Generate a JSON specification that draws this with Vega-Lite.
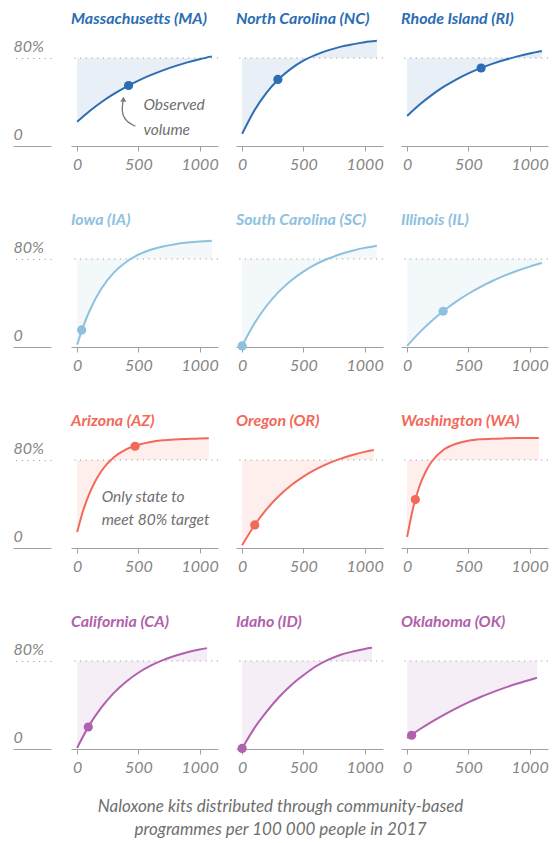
{
  "$schema": "https://vega.github.io/schema/vega-lite/v6.json",
  "padding": {"left": 12, "top": 11, "right": 5, "bottom": 8},
  "background": "white",
  "title": {
    "text": ["Naloxone kits distributed through community-based", "programmes per 100 000 people in 2017"],
    "orient": "bottom",
    "anchor": "middle",
    "font": "Lato",
    "fontSize": 17,
    "fontStyle": "italic",
    "fontWeight": "normal",
    "color": "#6f6f6f",
    "lineHeight": 23,
    "offset": 24
  },
  "data": {
    "values": [
      {"state": "MA", "group": "1", "kind": "t", "x": -50, "y": 100, "text": "Massachusetts (MA)"},
      {"state": "NC", "group": "1", "kind": "t", "x": -50, "y": 100, "text": "North Carolina (NC)"},
      {"state": "RI", "group": "1", "kind": "t", "x": -50, "y": 100, "text": "Rhode Island (RI)"},
      {"state": "IA", "group": "2", "kind": "t", "x": -50, "y": 100, "text": "Iowa (IA)"},
      {"state": "SC", "group": "2", "kind": "t", "x": -50, "y": 100, "text": "South Carolina (SC)"},
      {"state": "IL", "group": "2", "kind": "t", "x": -50, "y": 100, "text": "Illinois (IL)"},
      {"state": "AZ", "group": "3", "kind": "t", "x": -50, "y": 100, "text": "Arizona (AZ)"},
      {"state": "OR", "group": "3", "kind": "t", "x": -50, "y": 100, "text": "Oregon (OR)"},
      {"state": "WA", "group": "3", "kind": "t", "x": -50, "y": 100, "text": "Washington (WA)"},
      {"state": "CA", "group": "4", "kind": "t", "x": -50, "y": 100, "text": "California (CA)"},
      {"state": "ID", "group": "4", "kind": "t", "x": -50, "y": 100, "text": "Idaho (ID)"},
      {"state": "OK", "group": "4", "kind": "t", "x": -50, "y": 100, "text": "Oklahoma (OK)"},

      {"state": "MA", "group": "1", "kind": "r", "y": 80},
      {"state": "NC", "group": "1", "kind": "r", "y": 80},
      {"state": "RI", "group": "1", "kind": "r", "y": 80},
      {"state": "IA", "group": "2", "kind": "r", "y": 80},
      {"state": "SC", "group": "2", "kind": "r", "y": 80},
      {"state": "IL", "group": "2", "kind": "r", "y": 80},
      {"state": "AZ", "group": "3", "kind": "r", "y": 80},
      {"state": "OR", "group": "3", "kind": "r", "y": 80},
      {"state": "WA", "group": "3", "kind": "r", "y": 80},
      {"state": "CA", "group": "4", "kind": "r", "y": 80},
      {"state": "ID", "group": "4", "kind": "r", "y": 80},
      {"state": "OK", "group": "4", "kind": "r", "y": 80},

      {"state": "MA", "group": "1", "kind": "o", "x": 420, "y": 55},
      {"state": "NC", "group": "1", "kind": "o", "x": 292, "y": 60.5},
      {"state": "RI", "group": "1", "kind": "o", "x": 604, "y": 70.9},
      {"state": "IA", "group": "2", "kind": "o", "x": 37, "y": 15.5},
      {"state": "SC", "group": "2", "kind": "o", "x": 0, "y": 1},
      {"state": "IL", "group": "2", "kind": "o", "x": 294, "y": 32.5},
      {"state": "AZ", "group": "3", "kind": "o", "x": 473, "y": 92.5},
      {"state": "OR", "group": "3", "kind": "o", "x": 103, "y": 21},
      {"state": "WA", "group": "3", "kind": "o", "x": 67, "y": 44},
      {"state": "CA", "group": "4", "kind": "o", "x": 91, "y": 20},
      {"state": "ID", "group": "4", "kind": "o", "x": 0, "y": 0.5},
      {"state": "OK", "group": "4", "kind": "o", "x": 37, "y": 12.5},

      {"state": "MA", "group": "1", "kind": "n", "x": 541, "y": 32.7, "text": "Observed"},
      {"state": "MA", "group": "1", "kind": "n", "x": 541, "y": 10, "text": "volume"},
      {"state": "AZ", "group": "3", "kind": "n", "x": 200, "y": 42, "text": "Only state to"},
      {"state": "AZ", "group": "3", "kind": "n", "x": 200, "y": 21, "text": "meet 80% target"},

      {"state": "MA", "group": "1", "kind": "a", "order": 1, "x": 475, "y": 18},
      {"state": "MA", "group": "1", "kind": "a", "order": 2, "x": 405, "y": 22},
      {"state": "MA", "group": "1", "kind": "a", "order": 3, "x": 372, "y": 28},
      {"state": "MA", "group": "1", "kind": "a", "order": 4, "x": 366, "y": 34},
      {"state": "MA", "group": "1", "kind": "a", "order": 5, "x": 374, "y": 40},
      {"state": "MA", "group": "1", "kind": "h", "x": 377, "y": 42.5},

      {"state": "MA", "group": "1", "kind": "c", "x": 0, "y": 22},
      {"state": "MA", "group": "1", "kind": "c", "x": 100, "y": 31.6},
      {"state": "MA", "group": "1", "kind": "c", "x": 200, "y": 40},
      {"state": "MA", "group": "1", "kind": "c", "x": 300, "y": 47.3},
      {"state": "MA", "group": "1", "kind": "c", "x": 400, "y": 53.8},
      {"state": "MA", "group": "1", "kind": "c", "x": 500, "y": 59.5},
      {"state": "MA", "group": "1", "kind": "c", "x": 600, "y": 64.4},
      {"state": "MA", "group": "1", "kind": "c", "x": 700, "y": 68.8},
      {"state": "MA", "group": "1", "kind": "c", "x": 800, "y": 72.6},
      {"state": "MA", "group": "1", "kind": "c", "x": 900, "y": 76},
      {"state": "MA", "group": "1", "kind": "c", "x": 1000, "y": 78.9},
      {"state": "MA", "group": "1", "kind": "c", "x": 1100, "y": 81.5},

      {"state": "NC", "group": "1", "kind": "c", "x": 0, "y": 11},
      {"state": "NC", "group": "1", "kind": "c", "x": 100, "y": 32.3},
      {"state": "NC", "group": "1", "kind": "c", "x": 200, "y": 48.6},
      {"state": "NC", "group": "1", "kind": "c", "x": 300, "y": 60.9},
      {"state": "NC", "group": "1", "kind": "c", "x": 400, "y": 70.3},
      {"state": "NC", "group": "1", "kind": "c", "x": 500, "y": 77.6},
      {"state": "NC", "group": "1", "kind": "c", "x": 600, "y": 82.8},
      {"state": "NC", "group": "1", "kind": "c", "x": 700, "y": 86.9},
      {"state": "NC", "group": "1", "kind": "c", "x": 800, "y": 90.1},
      {"state": "NC", "group": "1", "kind": "c", "x": 900, "y": 92.4},
      {"state": "NC", "group": "1", "kind": "c", "x": 1000, "y": 94.3},
      {"state": "NC", "group": "1", "kind": "c", "x": 1100, "y": 95.6},

      {"state": "RI", "group": "1", "kind": "c", "x": 0, "y": 27.3},
      {"state": "RI", "group": "1", "kind": "c", "x": 100, "y": 37.5},
      {"state": "RI", "group": "1", "kind": "c", "x": 200, "y": 46.3},
      {"state": "RI", "group": "1", "kind": "c", "x": 300, "y": 53.9},
      {"state": "RI", "group": "1", "kind": "c", "x": 400, "y": 60.4},
      {"state": "RI", "group": "1", "kind": "c", "x": 500, "y": 66},
      {"state": "RI", "group": "1", "kind": "c", "x": 600, "y": 70.8},
      {"state": "RI", "group": "1", "kind": "c", "x": 700, "y": 74.9},
      {"state": "RI", "group": "1", "kind": "c", "x": 800, "y": 78.4},
      {"state": "RI", "group": "1", "kind": "c", "x": 900, "y": 81.5},
      {"state": "RI", "group": "1", "kind": "c", "x": 1000, "y": 84.1},
      {"state": "RI", "group": "1", "kind": "c", "x": 1100, "y": 86.3},

      {"state": "IA", "group": "2", "kind": "c", "x": 0, "y": 2},
      {"state": "IA", "group": "2", "kind": "c", "x": 50, "y": 18.7},
      {"state": "IA", "group": "2", "kind": "c", "x": 100, "y": 32.5},
      {"state": "IA", "group": "2", "kind": "c", "x": 200, "y": 53.4},
      {"state": "IA", "group": "2", "kind": "c", "x": 300, "y": 67.6},
      {"state": "IA", "group": "2", "kind": "c", "x": 400, "y": 77.3},
      {"state": "IA", "group": "2", "kind": "c", "x": 500, "y": 83.9},
      {"state": "IA", "group": "2", "kind": "c", "x": 600, "y": 88.4},
      {"state": "IA", "group": "2", "kind": "c", "x": 700, "y": 91.4},
      {"state": "IA", "group": "2", "kind": "c", "x": 800, "y": 93.5},
      {"state": "IA", "group": "2", "kind": "c", "x": 900, "y": 94.9},
      {"state": "IA", "group": "2", "kind": "c", "x": 1000, "y": 95.9},
      {"state": "IA", "group": "2", "kind": "c", "x": 1100, "y": 96.6},

      {"state": "SC", "group": "2", "kind": "c", "x": 0, "y": 1},
      {"state": "SC", "group": "2", "kind": "c", "x": 100, "y": 21.3},
      {"state": "SC", "group": "2", "kind": "c", "x": 200, "y": 37.5},
      {"state": "SC", "group": "2", "kind": "c", "x": 300, "y": 50.3},
      {"state": "SC", "group": "2", "kind": "c", "x": 400, "y": 60.5},
      {"state": "SC", "group": "2", "kind": "c", "x": 500, "y": 68.6},
      {"state": "SC", "group": "2", "kind": "c", "x": 600, "y": 75.1},
      {"state": "SC", "group": "2", "kind": "c", "x": 700, "y": 80.2},
      {"state": "SC", "group": "2", "kind": "c", "x": 800, "y": 84.3},
      {"state": "SC", "group": "2", "kind": "c", "x": 900, "y": 87.5},
      {"state": "SC", "group": "2", "kind": "c", "x": 1000, "y": 90.1},
      {"state": "SC", "group": "2", "kind": "c", "x": 1100, "y": 92.1},

      {"state": "IL", "group": "2", "kind": "c", "x": 0, "y": 1},
      {"state": "IL", "group": "2", "kind": "c", "x": 100, "y": 13.1},
      {"state": "IL", "group": "2", "kind": "c", "x": 200, "y": 23.7},
      {"state": "IL", "group": "2", "kind": "c", "x": 300, "y": 33},
      {"state": "IL", "group": "2", "kind": "c", "x": 400, "y": 41.2},
      {"state": "IL", "group": "2", "kind": "c", "x": 500, "y": 48.4},
      {"state": "IL", "group": "2", "kind": "c", "x": 600, "y": 54.7},
      {"state": "IL", "group": "2", "kind": "c", "x": 700, "y": 60.2},
      {"state": "IL", "group": "2", "kind": "c", "x": 800, "y": 65.1},
      {"state": "IL", "group": "2", "kind": "c", "x": 900, "y": 69.3},
      {"state": "IL", "group": "2", "kind": "c", "x": 1000, "y": 73.1},
      {"state": "IL", "group": "2", "kind": "c", "x": 1100, "y": 76.3},

      {"state": "AZ", "group": "3", "kind": "c", "x": 0, "y": 14.5},
      {"state": "AZ", "group": "3", "kind": "c", "x": 50, "y": 34.3},
      {"state": "AZ", "group": "3", "kind": "c", "x": 100, "y": 49.5},
      {"state": "AZ", "group": "3", "kind": "c", "x": 150, "y": 61.2},
      {"state": "AZ", "group": "3", "kind": "c", "x": 200, "y": 70.2},
      {"state": "AZ", "group": "3", "kind": "c", "x": 300, "y": 82.4},
      {"state": "AZ", "group": "3", "kind": "c", "x": 400, "y": 89.6},
      {"state": "AZ", "group": "3", "kind": "c", "x": 500, "y": 93.8},
      {"state": "AZ", "group": "3", "kind": "c", "x": 600, "y": 96.4},
      {"state": "AZ", "group": "3", "kind": "c", "x": 700, "y": 97.9},
      {"state": "AZ", "group": "3", "kind": "c", "x": 800, "y": 98.7},
      {"state": "AZ", "group": "3", "kind": "c", "x": 900, "y": 99.2},
      {"state": "AZ", "group": "3", "kind": "c", "x": 1000, "y": 99.6},
      {"state": "AZ", "group": "3", "kind": "c", "x": 1075, "y": 99.7},

      {"state": "OR", "group": "3", "kind": "c", "x": 0, "y": 2.5},
      {"state": "OR", "group": "3", "kind": "c", "x": 100, "y": 20.5},
      {"state": "OR", "group": "3", "kind": "c", "x": 200, "y": 35.3},
      {"state": "OR", "group": "3", "kind": "c", "x": 300, "y": 47.2},
      {"state": "OR", "group": "3", "kind": "c", "x": 400, "y": 57},
      {"state": "OR", "group": "3", "kind": "c", "x": 500, "y": 64.9},
      {"state": "OR", "group": "3", "kind": "c", "x": 600, "y": 71.4},
      {"state": "OR", "group": "3", "kind": "c", "x": 700, "y": 76.7},
      {"state": "OR", "group": "3", "kind": "c", "x": 800, "y": 81},
      {"state": "OR", "group": "3", "kind": "c", "x": 900, "y": 84.5},
      {"state": "OR", "group": "3", "kind": "c", "x": 1000, "y": 87.4},
      {"state": "OR", "group": "3", "kind": "c", "x": 1075, "y": 89.2},

      {"state": "WA", "group": "3", "kind": "c", "x": 0, "y": 10},
      {"state": "WA", "group": "3", "kind": "c", "x": 50, "y": 37},
      {"state": "WA", "group": "3", "kind": "c", "x": 100, "y": 55.9},
      {"state": "WA", "group": "3", "kind": "c", "x": 150, "y": 69.1},
      {"state": "WA", "group": "3", "kind": "c", "x": 200, "y": 78.4},
      {"state": "WA", "group": "3", "kind": "c", "x": 300, "y": 89.5},
      {"state": "WA", "group": "3", "kind": "c", "x": 400, "y": 94.8},
      {"state": "WA", "group": "3", "kind": "c", "x": 500, "y": 97.5},
      {"state": "WA", "group": "3", "kind": "c", "x": 600, "y": 98.8},
      {"state": "WA", "group": "3", "kind": "c", "x": 700, "y": 99.4},
      {"state": "WA", "group": "3", "kind": "c", "x": 800, "y": 99.7},
      {"state": "WA", "group": "3", "kind": "c", "x": 900, "y": 99.9},
      {"state": "WA", "group": "3", "kind": "c", "x": 1000, "y": 99.9},
      {"state": "WA", "group": "3", "kind": "c", "x": 1075, "y": 100},

      {"state": "CA", "group": "4", "kind": "c", "x": 0, "y": 1},
      {"state": "CA", "group": "4", "kind": "c", "x": 100, "y": 21.7},
      {"state": "CA", "group": "4", "kind": "c", "x": 200, "y": 38},
      {"state": "CA", "group": "4", "kind": "c", "x": 300, "y": 51},
      {"state": "CA", "group": "4", "kind": "c", "x": 400, "y": 61.2},
      {"state": "CA", "group": "4", "kind": "c", "x": 500, "y": 69.3},
      {"state": "CA", "group": "4", "kind": "c", "x": 600, "y": 75.7},
      {"state": "CA", "group": "4", "kind": "c", "x": 700, "y": 80.8},
      {"state": "CA", "group": "4", "kind": "c", "x": 800, "y": 84.8},
      {"state": "CA", "group": "4", "kind": "c", "x": 900, "y": 88},
      {"state": "CA", "group": "4", "kind": "c", "x": 1000, "y": 90.5},
      {"state": "CA", "group": "4", "kind": "c", "x": 1060, "y": 91.7},

      {"state": "ID", "group": "4", "kind": "c", "x": 0, "y": 0.5},
      {"state": "ID", "group": "4", "kind": "c", "x": 100, "y": 19},
      {"state": "ID", "group": "4", "kind": "c", "x": 200, "y": 34},
      {"state": "ID", "group": "4", "kind": "c", "x": 300, "y": 47},
      {"state": "ID", "group": "4", "kind": "c", "x": 400, "y": 58},
      {"state": "ID", "group": "4", "kind": "c", "x": 500, "y": 67},
      {"state": "ID", "group": "4", "kind": "c", "x": 600, "y": 75},
      {"state": "ID", "group": "4", "kind": "c", "x": 700, "y": 81},
      {"state": "ID", "group": "4", "kind": "c", "x": 800, "y": 85.5},
      {"state": "ID", "group": "4", "kind": "c", "x": 900, "y": 88.5},
      {"state": "ID", "group": "4", "kind": "c", "x": 1000, "y": 91},
      {"state": "ID", "group": "4", "kind": "c", "x": 1060, "y": 92},

      {"state": "OK", "group": "4", "kind": "c", "x": 0, "y": 10},
      {"state": "OK", "group": "4", "kind": "c", "x": 100, "y": 17.7},
      {"state": "OK", "group": "4", "kind": "c", "x": 200, "y": 24.7},
      {"state": "OK", "group": "4", "kind": "c", "x": 300, "y": 31.1},
      {"state": "OK", "group": "4", "kind": "c", "x": 400, "y": 37},
      {"state": "OK", "group": "4", "kind": "c", "x": 500, "y": 42.4},
      {"state": "OK", "group": "4", "kind": "c", "x": 600, "y": 47.3},
      {"state": "OK", "group": "4", "kind": "c", "x": 700, "y": 51.7},
      {"state": "OK", "group": "4", "kind": "c", "x": 800, "y": 55.8},
      {"state": "OK", "group": "4", "kind": "c", "x": 900, "y": 59.5},
      {"state": "OK", "group": "4", "kind": "c", "x": 1000, "y": 62.8},
      {"state": "OK", "group": "4", "kind": "c", "x": 1060, "y": 64.7}
    ]
  },
  "facet": {
    "field": "state",
    "type": "nominal",
    "title": null,
    "sort": ["MA", "NC", "RI", "IA", "SC", "IL", "AZ", "OR", "WA", "CA", "ID", "OK"],
    "header": {"labels": false, "title": null, "labelPadding": 0, "titlePadding": 0, "labelFontSize": 0, "labelColor": "transparent", "labelExpr": "''"}
  },
  "columns": 3,
  "spacing": {"row": 91, "column": 18},
  "bounds": "flush",
  "resolve": {"axis": {"x": "independent"}},
  "spec": {
    "width": 147,
    "height": 110,
    "layer": [
      {
        "transform": [{"filter": "datum.kind === 'c'"}],
        "mark": {"type": "area", "interpolate": "monotone", "opacity": 0.11},
        "encoding": {
          "x": {"field": "x", "type": "quantitative", "scale": {"domain": [-50, 1150], "nice": false, "zero": false},
            "axis": {"values": [0, 500, 1000], "format": "d", "title": null, "grid": false, "domainColor": "#a0a0a0", "tickColor": "#a0a0a0", "tickSize": 5, "labelFont": "Lato", "labelFontStyle": "italic", "labelFontSize": 16, "labelColor": "#858585", "labelPadding": 5, "labelFlush": false}},
          "y": {"field": "y", "type": "quantitative", "scale": {"domain": [0, 100], "nice": false, "zero": false},
            "axis": {"values": [0, 80], "title": null, "grid": false, "domain": false, "offset": 20, "tickSize": 38, "tickColor": "#a0a0a0", "tickWidth": 1.2,
              "tickDash": {"condition": {"test": "datum.value === 80", "value": [1.2, 4.5]}, "value": []},
              "labelExpr": "datum.value === 80 ? '80%' : '0'", "labelAlign": "left", "labelBaseline": "alphabetic", "labelPadding": 0, "labelOffset": -7,
              "labelFont": "Lato", "labelFontStyle": "italic", "labelFontSize": 16, "labelColor": "#858585"}},
          "y2": {"datum": 80},
          "color": {"field": "group", "type": "nominal", "scale": {"domain": ["1", "2", "3", "4"], "range": ["#2c6db3", "#8ec1df", "#f2695a", "#b061ad"]}, "legend": null}
        }
      },
      {
        "transform": [{"filter": "datum.kind === 'r'"}],
        "mark": {"type": "rule", "color": "#a0a0a0", "strokeWidth": 1.2, "strokeDash": [1.2, 4.5]},
        "encoding": {
          "y": {"field": "y", "type": "quantitative", "scale": {"domain": [0, 100], "nice": false, "zero": false}}
        }
      },
      {
        "transform": [{"filter": "datum.kind === 'c'"}],
        "mark": {"type": "line", "interpolate": "monotone", "strokeWidth": 2},
        "encoding": {
          "x": {"field": "x", "type": "quantitative"},
          "y": {"field": "y", "type": "quantitative"},
          "color": {"field": "group", "type": "nominal", "legend": null}
        }
      },
      {
        "transform": [{"filter": "datum.kind === 'o'"}],
        "mark": {"type": "point", "filled": true, "size": 85, "opacity": 1},
        "encoding": {
          "x": {"field": "x", "type": "quantitative"},
          "y": {"field": "y", "type": "quantitative"},
          "color": {"field": "group", "type": "nominal", "legend": null}
        }
      },
      {
        "transform": [{"filter": "datum.kind === 't'"}],
        "mark": {"type": "text", "align": "left", "baseline": "alphabetic", "dy": -12, "font": "Lato", "fontWeight": "bold", "fontStyle": "italic", "fontSize": 16},
        "encoding": {
          "x": {"field": "x", "type": "quantitative"},
          "y": {"field": "y", "type": "quantitative"},
          "text": {"field": "text"},
          "color": {"field": "group", "type": "nominal", "legend": null}
        }
      },
      {
        "transform": [{"filter": "datum.kind === 'n'"}],
        "mark": {"type": "text", "align": "left", "baseline": "alphabetic", "font": "Lato", "fontStyle": "italic", "fontSize": 15.5, "color": "#6f6f6f"},
        "encoding": {
          "x": {"field": "x", "type": "quantitative"},
          "y": {"field": "y", "type": "quantitative"},
          "text": {"field": "text"}
        }
      },
      {
        "transform": [{"filter": "datum.kind === 'a'"}],
        "mark": {"type": "line", "interpolate": "basis", "color": "#777777", "strokeWidth": 1.3},
        "encoding": {
          "x": {"field": "x", "type": "quantitative"},
          "y": {"field": "y", "type": "quantitative"},
          "order": {"field": "order", "type": "quantitative"}
        }
      },
      {
        "transform": [{"filter": "datum.kind === 'h'"}],
        "mark": {"type": "point", "shape": "triangle-up", "filled": true, "size": 35, "color": "#777777", "opacity": 1},
        "encoding": {
          "x": {"field": "x", "type": "quantitative"},
          "y": {"field": "y", "type": "quantitative"}
        }
      }
    ]
  },
  "config": {
    "view": {"stroke": null},
    "font": "Lato",
    "header": {"labels": false, "title": null, "labelFontSize": 0, "labelColor": "transparent"}
  }
}
